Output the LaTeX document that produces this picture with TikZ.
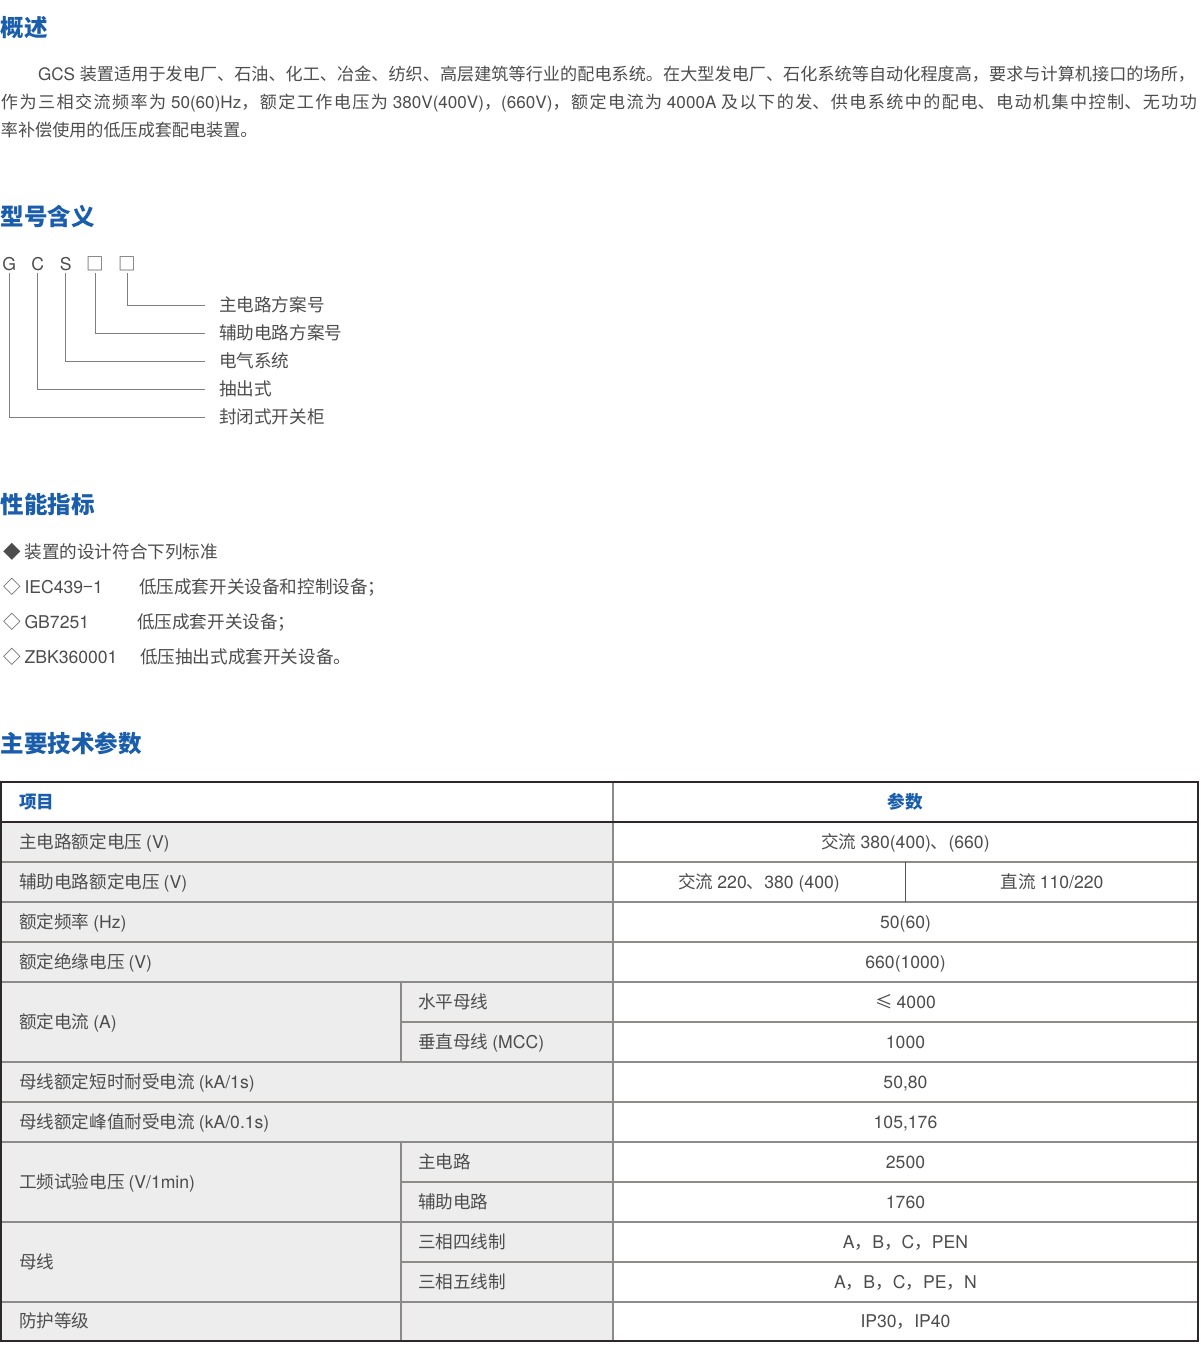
\documentclass[tikz,border=0pt]{standalone}
\usepackage{fontspec}
\setmainfont{Noto Sans CJK SC}
\newfontfamily\latf{TeX Gyre Heros}
\newcommand\ltn[1]{{\latf #1}}
\newcommand\jline[2]{\parbox[b]{#1}{\parindent=0pt\parfillskip=0pt\spaceskip=0.28em\xspaceskip=0.28em\relax\XeTeXlinebreaklocale "zh"\XeTeXlinebreakskip=0pt plus 3pt\relax #2}}
\usetikzlibrary{calc}
\definecolor{hblue}{HTML}{1A5DAB}
\definecolor{txt}{HTML}{4D4D4D}
\definecolor{diagline}{HTML}{7F7F7F}
\definecolor{cellfill}{HTML}{ECEDEC}
\definecolor{gridc}{HTML}{8E8A88}
\definecolor{framec}{HTML}{2E2828}
\tikzset{
  every node/.style={inner sep=0pt, outer sep=0pt},
  headtxt/.style={font=\fontsize{23.5}{26}\selectfont\bfseries, text=hblue, anchor=west, text height=17.9pt, text depth=0pt},
  bodytxt/.style={font=\fontsize{17.6}{20}\selectfont, text=txt, anchor=west, text height=13.4pt, text depth=0pt},
  paratxt/.style={bodytxt, font=\fontsize{17.1}{20}\selectfont},
  ctxt/.style={bodytxt, anchor=center},
  thead/.style={font=\fontsize{17.6}{20}\selectfont\bfseries, text=hblue, text height=13.4pt, text depth=0pt},
  letter/.style={font=\fontsize{17.6}{20}\selectfont, text=txt, anchor=base},
  diag/.style={draw=diagline, line width=1pt},
  gridline/.style={draw=gridc, line width=1.3pt},
  darkline/.style={draw=framec, line width=2.2pt},
}
\begin{document}
\begin{tikzpicture}[x=1pt,y=-1pt]
\fill[white] (0,0) rectangle (1200,1359);
\useasboundingbox (0,0) rectangle (1200,1359);

% ---- 概述
\node[headtxt] (h1) at (1,28) {概述};
\node[paratxt] (p1) at (38,74) {\jline{1157pt}{\ltn{GCS} 装置适用于发电厂、石油、化工、冶金、纺织、高层建筑等行业的配电系统。在大型发电厂、石化系统等自动化程度高，要求与计算机接口的场所，}};
\node[paratxt] (p2) at (1,102) {\jline{1196pt}{作为三相交流频率为 \ltn{50(60)Hz}，额定工作电压为 \ltn{380V(400V)}，\ltn{(660V)}，额定电流为 \ltn{4000A} 及以下的发、供电系统中的配电、电动机集中控制、无功功}};
\node[paratxt] (p3) at (1,130) {率补偿使用的低压成套配电装置。};

% ---- 型号含义
\node[headtxt] (h2) at (1,217) {型号含义};
\node[letter] (gG) at (9.3,270) {\ltn{G}};
\node[letter] (gC) at (37.7,270) {\ltn{C}};
\node[letter] (gS) at (65.7,270) {\ltn{S}};
\node[letter] (gB1) at (95.7,270) {□};
\node[letter] (gB2) at (127.7,270) {□};
\node[bodytxt] (l1) at (219,305) {主电路方案号};
\node[bodytxt] (l2) at (219,333) {辅助电路方案号};
\node[bodytxt] (l3) at (219,361) {电气系统};
\node[bodytxt] (l4) at (219,389) {抽出式};
\node[bodytxt] (l5) at (219,417) {封闭式开关柜};
\draw[diag] ($(gB2.base)+(0,3)$) |- ($(l1.west)+(-14,0)$);
\draw[diag] ($(gB1.base)+(0,3)$) |- ($(l2.west)+(-14,0)$);
\draw[diag] ($(gS.base)+(0,3)$) |- ($(l3.west)+(-14,0)$);
\draw[diag] ($(gC.base)+(0,3)$) |- ($(l4.west)+(-14,0)$);
\draw[diag] ($(gG.base)+(0,3)$) |- ($(l5.west)+(-14,0)$);

% ---- 性能指标
\node[headtxt] (h3) at (1,505) {性能指标};
\node[bodytxt] (b0) at (3,552) {◆ 装置的设计符合下列标准};
\node[bodytxt] (b1) at (3,587) {◇ \ltn{IEC439}−\ltn{1}};
\node[bodytxt] (b1t) at (139,587) {低压成套开关设备和控制设备；};
\node[bodytxt] (b2) at (3,622) {◇ \ltn{GB7251}};
\node[bodytxt] (b2t) at (137,622) {低压成套开关设备；};
\node[bodytxt] (b3) at (3,657) {◇ \ltn{ZBK360001}};
\node[bodytxt] (b3t) at (140,657) {低压抽出式成套开关设备。};

% ---- 主要技术参数
\node[headtxt] (h4) at (1,744) {主要技术参数};

% table background
\fill[cellfill] (1,822) rectangle (613,1341);
% grid lines
\foreach \yy in {862,902,942,982,1062,1102,1142,1222,1302}
  \draw[gridline] (1,\yy) -- (1198,\yy);
\foreach \yy in {1022,1182,1262}
  \draw[gridline] (401,\yy) -- (1198,\yy);
\draw[gridline] (613,782) -- (613,1341);
\draw[gridline] (401,982) -- (401,1062);
\draw[gridline] (401,1142) -- (401,1341);
\draw[draw=framec!80, line width=1pt] (905,862) -- (905,902);
% frame
\draw[darkline] (1,822) -- (1198,822);
\draw[darkline] (1,782) rectangle (1198,1341);

% table text
\node[thead, anchor=west] (t0) at (19,802) {项目};
\node[thead, anchor=center] (t1) at (905.5,802) {参数};
\node[bodytxt] (r1a) at (19,842) {主电路额定电压 \ltn{(V)}};
\node[ctxt] (r1b) at (905.5,842) {交流 \ltn{380(400)}、\ltn{(660)}};
\node[bodytxt] (r2a) at (19,882) {辅助电路额定电压 \ltn{(V)}};
\node[ctxt] (r2b) at (759,882) {交流 \ltn{220}、\ltn{380 (400)}};
\node[ctxt] (r2c) at (1052,882) {直流 \ltn{110/220}};
\node[bodytxt] (r3a) at (19,922) {额定频率 \ltn{(Hz)}};
\node[ctxt] (r3b) at (905.5,922) {\ltn{50(60)}};
\node[bodytxt] (r4a) at (19,962) {额定绝缘电压 \ltn{(V)}};
\node[ctxt] (r4b) at (905.5,962) {\ltn{660(1000)}};
\node[bodytxt] (r5a) at (19,1022) {额定电流 \ltn{(A)}};
\node[bodytxt] (r5s) at (418,1002) {水平母线};
\node[ctxt] (r5b) at (905.5,1002) {≤ \ltn{4000}};
\node[bodytxt] (r6s) at (418,1042) {垂直母线 \ltn{(MCC)}};
\node[ctxt] (r6b) at (905.5,1042) {\ltn{1000}};
\node[bodytxt] (r7a) at (19,1082) {母线额定短时耐受电流 \ltn{(kA/1s)}};
\node[ctxt] (r7b) at (905.5,1082) {\ltn{50,80}};
\node[bodytxt] (r8a) at (19,1122) {母线额定峰值耐受电流 \ltn{(kA/0.1s)}};
\node[ctxt] (r8b) at (905.5,1122) {\ltn{105,176}};
\node[bodytxt] (r9a) at (19,1182) {工频试验电压 \ltn{(V/1min)}};
\node[bodytxt] (r9s) at (418,1162) {主电路};
\node[ctxt] (r9b) at (905.5,1162) {\ltn{2500}};
\node[bodytxt] (r10s) at (418,1202) {辅助电路};
\node[ctxt] (r10b) at (905.5,1202) {\ltn{1760}};
\node[bodytxt] (r11a) at (19,1262) {母线};
\node[bodytxt] (r11s) at (418,1242) {三相四线制};
\node[ctxt] (r11b) at (905.5,1242) {\ltn{A}，\ltn{B}，\ltn{C}，\ltn{PEN}};
\node[bodytxt] (r12s) at (418,1282) {三相五线制};
\node[ctxt] (r12b) at (905.5,1282) {\ltn{A}，\ltn{B}，\ltn{C}，\ltn{PE}，\ltn{N}};
\node[bodytxt] (r13a) at (19,1321) {防护等级};
\node[ctxt] (r13b) at (905.5,1321) {\ltn{IP30}，\ltn{IP40}};
\end{tikzpicture}
\end{document}
